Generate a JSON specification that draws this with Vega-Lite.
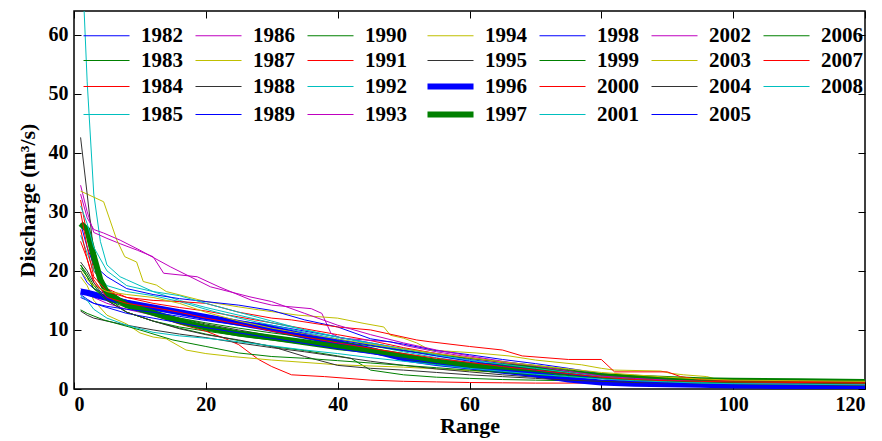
{
"$schema": "https://vega.github.io/schema/vega-lite/v6.json",
"width": 791, "height": 378,
"autosize": {"type": "none"},
"padding": {"left": 74, "top": 11, "right": 17, "bottom": 52},
"background": "white",
"config": {
  "view": {"stroke": "black", "strokeWidth": 1.5},
  "font": "Liberation Serif",
  "axis": {"grid": false, "domain": false, "tickColor": "black", "tickSize": -7, "tickWidth": 1,
    "labelFont": "Liberation Serif", "labelFontSize": 20, "labelFontWeight": "bold", "labelColor": "black",
    "titleFont": "Liberation Serif", "titleFontSize": 22, "titleFontWeight": "bold", "titleColor": "black"}
},
"datasets": {"flow": [
{"year":"1982","x":1,"q":20},{"year":"1982","x":2,"q":18},{"year":"1982","x":3,"q":17},{"year":"1982","x":5,"q":16},{"year":"1982","x":8,"q":15},{"year":"1982","x":12,"q":14},{"year":"1982","x":16,"q":13.2},{"year":"1982","x":20,"q":12.5},{"year":"1982","x":25,"q":11.5},{"year":"1982","x":30,"q":10.8},{"year":"1982","x":35,"q":9.8},{"year":"1982","x":40,"q":8.8},{"year":"1982","x":45,"q":7.8},{"year":"1982","x":50,"q":6.8},{"year":"1982","x":55,"q":6.0},{"year":"1982","x":60,"q":5.0},{"year":"1982","x":65,"q":4.3},{"year":"1982","x":70,"q":3.8},{"year":"1982","x":75,"q":3.0},{"year":"1982","x":80,"q":2.2},{"year":"1982","x":85,"q":1.7},{"year":"1982","x":90,"q":1.4},{"year":"1982","x":95,"q":1.2},{"year":"1982","x":100,"q":1.0},{"year":"1982","x":110,"q":0.8},{"year":"1982","x":120,"q":0.7},
{"year":"1983","x":1,"q":21},{"year":"1983","x":2,"q":19.5},{"year":"1983","x":3,"q":17.5},{"year":"1983","x":5,"q":15},{"year":"1983","x":8,"q":13},{"year":"1983","x":12,"q":11.5},{"year":"1983","x":16,"q":10.5},{"year":"1983","x":20,"q":9.8},{"year":"1983","x":25,"q":9.0},{"year":"1983","x":30,"q":8.3},{"year":"1983","x":35,"q":7.6},{"year":"1983","x":40,"q":7.0},{"year":"1983","x":45,"q":6.3},{"year":"1983","x":50,"q":5.6},{"year":"1983","x":55,"q":5.0},{"year":"1983","x":60,"q":4.4},{"year":"1983","x":65,"q":3.9},{"year":"1983","x":70,"q":3.4},{"year":"1983","x":75,"q":2.8},{"year":"1983","x":80,"q":2.2},{"year":"1983","x":85,"q":1.8},{"year":"1983","x":90,"q":1.5},{"year":"1983","x":95,"q":1.3},{"year":"1983","x":100,"q":1.1},{"year":"1983","x":110,"q":1.0},{"year":"1983","x":120,"q":0.9},
{"year":"1984","x":1,"q":32},{"year":"1984","x":2,"q":26},{"year":"1984","x":3,"q":20},{"year":"1984","x":5,"q":17},{"year":"1984","x":8,"q":15.5},{"year":"1984","x":12,"q":14.5},{"year":"1984","x":16,"q":13.8},{"year":"1984","x":20,"q":13.2},{"year":"1984","x":25,"q":12.2},{"year":"1984","x":30,"q":11.2},{"year":"1984","x":35,"q":10.2},{"year":"1984","x":40,"q":9.2},{"year":"1984","x":45,"q":8.2},{"year":"1984","x":50,"q":7.0},{"year":"1984","x":55,"q":6.0},{"year":"1984","x":60,"q":5.2},{"year":"1984","x":65,"q":4.5},{"year":"1984","x":70,"q":3.8},{"year":"1984","x":75,"q":3.1},{"year":"1984","x":80,"q":2.4},{"year":"1984","x":85,"q":1.9},{"year":"1984","x":90,"q":1.6},{"year":"1984","x":95,"q":1.3},{"year":"1984","x":100,"q":1.1},{"year":"1984","x":110,"q":0.9},{"year":"1984","x":120,"q":0.8},
{"year":"1985","x":1,"q":78},{"year":"1985","x":2,"q":52},{"year":"1985","x":3,"q":33},{"year":"1985","x":4,"q":25},{"year":"1985","x":5,"q":21},{"year":"1985","x":7,"q":19},{"year":"1985","x":8,"q":18.5},{"year":"1985","x":12,"q":16.5},{"year":"1985","x":16,"q":15},{"year":"1985","x":20,"q":13.8},{"year":"1985","x":25,"q":12.5},{"year":"1985","x":30,"q":11.2},{"year":"1985","x":35,"q":10},{"year":"1985","x":40,"q":8.8},{"year":"1985","x":45,"q":7.6},{"year":"1985","x":50,"q":6.6},{"year":"1985","x":55,"q":5.6},{"year":"1985","x":60,"q":4.8},{"year":"1985","x":65,"q":4.0},{"year":"1985","x":70,"q":3.3},{"year":"1985","x":75,"q":2.6},{"year":"1985","x":80,"q":2.0},{"year":"1985","x":85,"q":1.6},{"year":"1985","x":90,"q":1.3},{"year":"1985","x":95,"q":1.1},{"year":"1985","x":100,"q":1.0},{"year":"1985","x":110,"q":0.9},{"year":"1985","x":120,"q":0.8},
{"year":"1986","x":1,"q":34.5},{"year":"1986","x":2,"q":30},{"year":"1986","x":3,"q":26.5},{"year":"1986","x":5,"q":25.5},{"year":"1986","x":7,"q":24.6},{"year":"1986","x":9.6,"q":23.5},{"year":"1986","x":12,"q":22.4},{"year":"1986","x":13.6,"q":19.6},{"year":"1986","x":18.7,"q":19},{"year":"1986","x":22,"q":17.3},{"year":"1986","x":27,"q":15},{"year":"1986","x":30,"q":14.2},{"year":"1986","x":36,"q":13.6},{"year":"1986","x":37.6,"q":12.8},{"year":"1986","x":39,"q":9.4},{"year":"1986","x":40.5,"q":8.6},{"year":"1986","x":48,"q":8.0},{"year":"1986","x":50,"q":7.4},{"year":"1986","x":55,"q":6.3},{"year":"1986","x":60,"q":5.4},{"year":"1986","x":65,"q":4.6},{"year":"1986","x":70,"q":3.8},{"year":"1986","x":75,"q":3.0},{"year":"1986","x":80,"q":2.2},{"year":"1986","x":85,"q":1.7},{"year":"1986","x":90,"q":1.4},{"year":"1986","x":95,"q":1.2},{"year":"1986","x":100,"q":1.0},{"year":"1986","x":110,"q":0.8},{"year":"1986","x":120,"q":0.7},
{"year":"1987","x":1,"q":33.5},{"year":"1987","x":2,"q":33},{"year":"1987","x":4.5,"q":31.7},{"year":"1987","x":6.5,"q":25.2},{"year":"1987","x":7.7,"q":22.4},{"year":"1987","x":9.5,"q":21.5},{"year":"1987","x":10.5,"q":18.2},{"year":"1987","x":12.5,"q":17.6},{"year":"1987","x":14,"q":16.5},{"year":"1987","x":20,"q":14.8},{"year":"1987","x":25,"q":13.9},{"year":"1987","x":28,"q":13.4},{"year":"1987","x":34,"q":12.5},{"year":"1987","x":40,"q":12.0},{"year":"1987","x":44,"q":11.1},{"year":"1987","x":47,"q":10.5},{"year":"1987","x":48,"q":9.1},{"year":"1987","x":50,"q":8.6},{"year":"1987","x":52,"q":7.8},{"year":"1987","x":54,"q":6.6},{"year":"1987","x":61,"q":6.1},{"year":"1987","x":66,"q":5.6},{"year":"1987","x":70,"q":4.9},{"year":"1987","x":77,"q":4.1},{"year":"1987","x":80,"q":3.5},{"year":"1987","x":82,"q":3.2},{"year":"1987","x":89,"q":3.05},{"year":"1987","x":90.5,"q":2.65},{"year":"1987","x":92.5,"q":2.4},{"year":"1987","x":96,"q":2.1},{"year":"1987","x":98,"q":1.5},{"year":"1987","x":100,"q":1.4},{"year":"1987","x":110,"q":1.35},{"year":"1987","x":120,"q":1.3},
{"year":"1988","x":1,"q":42.6},{"year":"1988","x":2,"q":33},{"year":"1988","x":3,"q":23},{"year":"1988","x":4,"q":19},{"year":"1988","x":5,"q":17},{"year":"1988","x":8,"q":14.5},{"year":"1988","x":12,"q":13},{"year":"1988","x":16,"q":12},{"year":"1988","x":20,"q":11},{"year":"1988","x":25,"q":10},{"year":"1988","x":30,"q":9},{"year":"1988","x":35,"q":8.2},{"year":"1988","x":40,"q":7.3},{"year":"1988","x":45,"q":6.4},{"year":"1988","x":50,"q":5.5},{"year":"1988","x":55,"q":4.7},{"year":"1988","x":60,"q":4.0},{"year":"1988","x":65,"q":3.4},{"year":"1988","x":70,"q":2.8},{"year":"1988","x":75,"q":2.3},{"year":"1988","x":80,"q":1.8},{"year":"1988","x":85,"q":1.5},{"year":"1988","x":90,"q":1.3},{"year":"1988","x":95,"q":1.1},{"year":"1988","x":100,"q":1.0},{"year":"1988","x":110,"q":0.8},{"year":"1988","x":120,"q":0.7},
{"year":"1989","x":1,"q":28},{"year":"1989","x":2,"q":24},{"year":"1989","x":3,"q":21},{"year":"1989","x":5,"q":19},{"year":"1989","x":8,"q":17},{"year":"1989","x":12,"q":16},{"year":"1989","x":16,"q":15.3},{"year":"1989","x":20,"q":14.8},{"year":"1989","x":25,"q":14.2},{"year":"1989","x":30,"q":13.3},{"year":"1989","x":35,"q":11.7},{"year":"1989","x":40,"q":10.5},{"year":"1989","x":45,"q":8.5},{"year":"1989","x":50,"q":7.6},{"year":"1989","x":55,"q":6.5},{"year":"1989","x":60,"q":5.8},{"year":"1989","x":65,"q":5.0},{"year":"1989","x":70,"q":4.3},{"year":"1989","x":75,"q":3.5},{"year":"1989","x":80,"q":2.6},{"year":"1989","x":85,"q":2.0},{"year":"1989","x":90,"q":1.6},{"year":"1989","x":95,"q":1.3},{"year":"1989","x":100,"q":1.1},{"year":"1989","x":110,"q":0.9},{"year":"1989","x":120,"q":0.8},
{"year":"1990","x":1,"q":21},{"year":"1990","x":2,"q":19},{"year":"1990","x":3,"q":17},{"year":"1990","x":5,"q":15.5},{"year":"1990","x":8,"q":13},{"year":"1990","x":12,"q":11.5},{"year":"1990","x":16,"q":10.3},{"year":"1990","x":20,"q":9.3},{"year":"1990","x":25,"q":8.2},{"year":"1990","x":30,"q":7.2},{"year":"1990","x":35,"q":6.5},{"year":"1990","x":40,"q":5.6},{"year":"1990","x":42,"q":5.2},{"year":"1990","x":45,"q":3.2},{"year":"1990","x":50,"q":2.4},{"year":"1990","x":55,"q":2.0},{"year":"1990","x":60,"q":1.8},{"year":"1990","x":65,"q":1.6},{"year":"1990","x":70,"q":1.5},{"year":"1990","x":75,"q":1.4},{"year":"1990","x":80,"q":1.2},{"year":"1990","x":85,"q":1.0},{"year":"1990","x":90,"q":0.9},{"year":"1990","x":95,"q":0.8},{"year":"1990","x":100,"q":0.7},{"year":"1990","x":110,"q":0.6},{"year":"1990","x":120,"q":0.5},
{"year":"1991","x":1,"q":25},{"year":"1991","x":2,"q":22},{"year":"1991","x":3,"q":18},{"year":"1991","x":5,"q":16},{"year":"1991","x":8,"q":14},{"year":"1991","x":12,"q":12.5},{"year":"1991","x":16,"q":11},{"year":"1991","x":20,"q":9.8},{"year":"1991","x":23,"q":8.5},{"year":"1991","x":25,"q":7.5},{"year":"1991","x":28,"q":5},{"year":"1991","x":30,"q":3.8},{"year":"1991","x":33,"q":2.4},{"year":"1991","x":38,"q":2.1},{"year":"1991","x":45,"q":1.5},{"year":"1991","x":50,"q":1.3},{"year":"1991","x":55,"q":1.2},{"year":"1991","x":60,"q":1.1},{"year":"1991","x":65,"q":1.05},{"year":"1991","x":70,"q":1.0},{"year":"1991","x":80,"q":1.0},{"year":"1991","x":90,"q":0.9},{"year":"1991","x":100,"q":0.9},{"year":"1991","x":110,"q":0.85},{"year":"1991","x":120,"q":0.8},
{"year":"1992","x":1,"q":26},{"year":"1992","x":2,"q":23},{"year":"1992","x":3,"q":20},{"year":"1992","x":5,"q":17.5},{"year":"1992","x":8,"q":16.5},{"year":"1992","x":12,"q":15.8},{"year":"1992","x":16,"q":14.8},{"year":"1992","x":20,"q":13.5},{"year":"1992","x":25,"q":12.0},{"year":"1992","x":30,"q":10.8},{"year":"1992","x":35,"q":9.6},{"year":"1992","x":40,"q":8.5},{"year":"1992","x":45,"q":7.4},{"year":"1992","x":50,"q":6.3},{"year":"1992","x":55,"q":5.3},{"year":"1992","x":60,"q":4.5},{"year":"1992","x":65,"q":3.8},{"year":"1992","x":70,"q":3.1},{"year":"1992","x":75,"q":2.5},{"year":"1992","x":80,"q":1.9},{"year":"1992","x":85,"q":1.6},{"year":"1992","x":90,"q":1.3},{"year":"1992","x":95,"q":1.2},{"year":"1992","x":100,"q":1.1},{"year":"1992","x":110,"q":1.0},{"year":"1992","x":120,"q":0.9},
{"year":"1993","x":1,"q":17},{"year":"1993","x":2,"q":16},{"year":"1993","x":3,"q":15.5},{"year":"1993","x":5,"q":14.5},{"year":"1993","x":8,"q":13.5},{"year":"1993","x":12,"q":12.5},{"year":"1993","x":16,"q":11.5},{"year":"1993","x":20,"q":10.6},{"year":"1993","x":25,"q":9.7},{"year":"1993","x":30,"q":8.8},{"year":"1993","x":35,"q":8.0},{"year":"1993","x":40,"q":7.2},{"year":"1993","x":45,"q":6.4},{"year":"1993","x":50,"q":5.7},{"year":"1993","x":55,"q":5.0},{"year":"1993","x":60,"q":4.3},{"year":"1993","x":65,"q":3.7},{"year":"1993","x":70,"q":3.1},{"year":"1993","x":75,"q":2.5},{"year":"1993","x":80,"q":1.9},{"year":"1993","x":85,"q":1.5},{"year":"1993","x":90,"q":1.2},{"year":"1993","x":95,"q":1.1},{"year":"1993","x":100,"q":1.0},{"year":"1993","x":110,"q":0.9},{"year":"1993","x":120,"q":0.8},
{"year":"1994","x":1,"q":19},{"year":"1994","x":2,"q":17.5},{"year":"1994","x":3,"q":15},{"year":"1994","x":5,"q":12.5},{"year":"1994","x":8,"q":11},{"year":"1994","x":10,"q":9.5},{"year":"1994","x":12,"q":8.8},{"year":"1994","x":14,"q":8.5},{"year":"1994","x":17,"q":6.6},{"year":"1994","x":20,"q":6.0},{"year":"1994","x":24,"q":5.5},{"year":"1994","x":30,"q":4.9},{"year":"1994","x":40,"q":4.1},{"year":"1994","x":50,"q":3.7},{"year":"1994","x":55,"q":3.4},{"year":"1994","x":60,"q":3.1},{"year":"1994","x":65,"q":2.8},{"year":"1994","x":70,"q":2.5},{"year":"1994","x":75,"q":2.2},{"year":"1994","x":80,"q":1.9},{"year":"1994","x":85,"q":1.7},{"year":"1994","x":90,"q":1.5},{"year":"1994","x":95,"q":1.4},{"year":"1994","x":100,"q":1.3},{"year":"1994","x":110,"q":1.2},{"year":"1994","x":120,"q":1.1},
{"year":"1995","x":1,"q":13.2},{"year":"1995","x":2,"q":12.5},{"year":"1995","x":3,"q":12},{"year":"1995","x":5,"q":11.5},{"year":"1995","x":8,"q":10.8},{"year":"1995","x":12,"q":10},{"year":"1995","x":16,"q":9.3},{"year":"1995","x":20,"q":8.7},{"year":"1995","x":25,"q":7.8},{"year":"1995","x":30,"q":7.0},{"year":"1995","x":35,"q":6.3},{"year":"1995","x":40,"q":5.5},{"year":"1995","x":45,"q":4.7},{"year":"1995","x":50,"q":4.0},{"year":"1995","x":55,"q":3.4},{"year":"1995","x":60,"q":2.9},{"year":"1995","x":65,"q":2.4},{"year":"1995","x":70,"q":2.0},{"year":"1995","x":75,"q":1.7},{"year":"1995","x":80,"q":1.4},{"year":"1995","x":85,"q":1.2},{"year":"1995","x":90,"q":1.0},{"year":"1995","x":95,"q":0.9},{"year":"1995","x":100,"q":0.8},{"year":"1995","x":110,"q":0.7},{"year":"1995","x":120,"q":0.6},
{"year":"1996","x":1,"q":16.5},{"year":"1996","x":2,"q":16.3},{"year":"1996","x":3,"q":16},{"year":"1996","x":5,"q":15.4},{"year":"1996","x":8,"q":14.6},{"year":"1996","x":12,"q":13.8},{"year":"1996","x":16,"q":13},{"year":"1996","x":20,"q":12.2},{"year":"1996","x":25,"q":11.2},{"year":"1996","x":30,"q":10.2},{"year":"1996","x":35,"q":9.0},{"year":"1996","x":40,"q":7.8},{"year":"1996","x":45,"q":6.6},{"year":"1996","x":50,"q":5.2},{"year":"1996","x":55,"q":4.4},{"year":"1996","x":60,"q":3.8},{"year":"1996","x":65,"q":3.1},{"year":"1996","x":70,"q":2.5},{"year":"1996","x":75,"q":1.6},{"year":"1996","x":80,"q":1.1},{"year":"1996","x":85,"q":0.9},{"year":"1996","x":90,"q":0.8},{"year":"1996","x":95,"q":0.7},{"year":"1996","x":100,"q":0.6},{"year":"1996","x":110,"q":0.45},{"year":"1996","x":120,"q":0.35},
{"year":"1997","x":1,"q":28},{"year":"1997","x":2,"q":27},{"year":"1997","x":3,"q":22.5},{"year":"1997","x":4,"q":18.5},{"year":"1997","x":5,"q":16.3},{"year":"1997","x":8,"q":14.2},{"year":"1997","x":12,"q":12.9},{"year":"1997","x":16,"q":11.5},{"year":"1997","x":20,"q":10.4},{"year":"1997","x":25,"q":9.4},{"year":"1997","x":30,"q":8.7},{"year":"1997","x":35,"q":7.9},{"year":"1997","x":40,"q":7.1},{"year":"1997","x":45,"q":6.5},{"year":"1997","x":50,"q":5.6},{"year":"1997","x":55,"q":4.6},{"year":"1997","x":60,"q":4.0},{"year":"1997","x":65,"q":3.8},{"year":"1997","x":70,"q":3.4},{"year":"1997","x":75,"q":2.7},{"year":"1997","x":80,"q":2.2},{"year":"1997","x":85,"q":1.9},{"year":"1997","x":90,"q":1.7},{"year":"1997","x":95,"q":1.5},{"year":"1997","x":100,"q":1.4},{"year":"1997","x":110,"q":1.3},{"year":"1997","x":120,"q":1.2},
{"year":"1998","x":1,"q":15.5},{"year":"1998","x":2,"q":15},{"year":"1998","x":3,"q":14.5},{"year":"1998","x":5,"q":13.8},{"year":"1998","x":8,"q":12.8},{"year":"1998","x":12,"q":12},{"year":"1998","x":16,"q":11.2},{"year":"1998","x":20,"q":10.4},{"year":"1998","x":25,"q":9.5},{"year":"1998","x":30,"q":8.6},{"year":"1998","x":35,"q":7.7},{"year":"1998","x":40,"q":6.8},{"year":"1998","x":45,"q":6.0},{"year":"1998","x":50,"q":5.2},{"year":"1998","x":55,"q":4.3},{"year":"1998","x":60,"q":3.5},{"year":"1998","x":65,"q":2.8},{"year":"1998","x":70,"q":2.1},{"year":"1998","x":75,"q":1.5},{"year":"1998","x":80,"q":1.1},{"year":"1998","x":85,"q":0.9},{"year":"1998","x":90,"q":0.7},{"year":"1998","x":95,"q":0.6},{"year":"1998","x":100,"q":0.5},{"year":"1998","x":110,"q":0.4},{"year":"1998","x":120,"q":0.3},
{"year":"1999","x":1,"q":20.5},{"year":"1999","x":2,"q":19},{"year":"1999","x":3,"q":17},{"year":"1999","x":5,"q":15},{"year":"1999","x":8,"q":13.8},{"year":"1999","x":12,"q":12.8},{"year":"1999","x":16,"q":12},{"year":"1999","x":20,"q":11.2},{"year":"1999","x":25,"q":10.3},{"year":"1999","x":30,"q":9.5},{"year":"1999","x":35,"q":8.8},{"year":"1999","x":40,"q":8.0},{"year":"1999","x":45,"q":7.3},{"year":"1999","x":50,"q":6.5},{"year":"1999","x":55,"q":5.8},{"year":"1999","x":60,"q":5.2},{"year":"1999","x":65,"q":4.6},{"year":"1999","x":70,"q":4.0},{"year":"1999","x":75,"q":3.3},{"year":"1999","x":80,"q":2.4},{"year":"1999","x":85,"q":1.9},{"year":"1999","x":90,"q":1.6},{"year":"1999","x":95,"q":1.4},{"year":"1999","x":100,"q":1.3},{"year":"1999","x":110,"q":1.2},{"year":"1999","x":120,"q":1.1},
{"year":"2000","x":1,"q":30},{"year":"2000","x":2,"q":24},{"year":"2000","x":3,"q":19},{"year":"2000","x":5,"q":16.5},{"year":"2000","x":8,"q":15.5},{"year":"2000","x":12,"q":15},{"year":"2000","x":16,"q":14.8},{"year":"2000","x":20,"q":14.5},{"year":"2000","x":25,"q":13},{"year":"2000","x":30,"q":12},{"year":"2000","x":33,"q":11.7},{"year":"2000","x":40,"q":10.5},{"year":"2000","x":45,"q":10},{"year":"2000","x":52,"q":8.3},{"year":"2000","x":54,"q":8},{"year":"2000","x":60,"q":7.2},{"year":"2000","x":65,"q":6.6},{"year":"2000","x":68,"q":5.6},{"year":"2000","x":75,"q":5.0},{"year":"2000","x":80,"q":5.0},{"year":"2000","x":82,"q":2.9},{"year":"2000","x":90,"q":2.9},{"year":"2000","x":92,"q":2.1},{"year":"2000","x":95,"q":1.6},{"year":"2000","x":100,"q":1.4},{"year":"2000","x":110,"q":1.3},{"year":"2000","x":120,"q":1.15},
{"year":"2001","x":1,"q":31},{"year":"2001","x":2,"q":28},{"year":"2001","x":3,"q":24},{"year":"2001","x":5,"q":20},{"year":"2001","x":8,"q":17.5},{"year":"2001","x":12,"q":16.5},{"year":"2001","x":16,"q":15.8},{"year":"2001","x":20,"q":14.5},{"year":"2001","x":25,"q":13},{"year":"2001","x":30,"q":11.5},{"year":"2001","x":35,"q":10},{"year":"2001","x":40,"q":8.8},{"year":"2001","x":45,"q":7.8},{"year":"2001","x":50,"q":6.8},{"year":"2001","x":55,"q":5.8},{"year":"2001","x":60,"q":4.9},{"year":"2001","x":65,"q":4.2},{"year":"2001","x":70,"q":3.5},{"year":"2001","x":75,"q":2.8},{"year":"2001","x":80,"q":2.1},{"year":"2001","x":85,"q":1.6},{"year":"2001","x":90,"q":1.3},{"year":"2001","x":95,"q":1.1},{"year":"2001","x":100,"q":1.0},{"year":"2001","x":110,"q":0.9},{"year":"2001","x":120,"q":0.8},
{"year":"2002","x":1,"q":33},{"year":"2002","x":2,"q":29},{"year":"2002","x":3,"q":27},{"year":"2002","x":4.5,"q":26.4},{"year":"2002","x":7,"q":25.2},{"year":"2002","x":10,"q":23.5},{"year":"2002","x":14.6,"q":20.7},{"year":"2002","x":20.7,"q":17.3},{"year":"2002","x":26.7,"q":15.6},{"year":"2002","x":30,"q":14.8},{"year":"2002","x":35,"q":12.8},{"year":"2002","x":40,"q":10.8},{"year":"2002","x":45,"q":9.2},{"year":"2002","x":50,"q":7.8},{"year":"2002","x":55,"q":6.6},{"year":"2002","x":60,"q":5.6},{"year":"2002","x":65,"q":4.7},{"year":"2002","x":70,"q":3.9},{"year":"2002","x":75,"q":3.0},{"year":"2002","x":80,"q":2.2},{"year":"2002","x":85,"q":1.8},{"year":"2002","x":90,"q":1.5},{"year":"2002","x":95,"q":1.3},{"year":"2002","x":100,"q":1.1},{"year":"2002","x":110,"q":0.9},{"year":"2002","x":120,"q":0.8},
{"year":"2003","x":1,"q":20},{"year":"2003","x":2,"q":18.5},{"year":"2003","x":3,"q":17.5},{"year":"2003","x":5,"q":16.5},{"year":"2003","x":8,"q":16},{"year":"2003","x":12,"q":15.5},{"year":"2003","x":16,"q":14.5},{"year":"2003","x":20,"q":13},{"year":"2003","x":25,"q":11.5},{"year":"2003","x":30,"q":10.3},{"year":"2003","x":35,"q":9.3},{"year":"2003","x":40,"q":8.4},{"year":"2003","x":45,"q":7.6},{"year":"2003","x":50,"q":6.8},{"year":"2003","x":55,"q":6.0},{"year":"2003","x":60,"q":5.3},{"year":"2003","x":65,"q":4.6},{"year":"2003","x":70,"q":4.0},{"year":"2003","x":75,"q":3.4},{"year":"2003","x":80,"q":2.8},{"year":"2003","x":85,"q":2.4},{"year":"2003","x":90,"q":2.0},{"year":"2003","x":95,"q":1.7},{"year":"2003","x":100,"q":1.5},{"year":"2003","x":110,"q":1.4},{"year":"2003","x":120,"q":1.3},
{"year":"2004","x":1,"q":21.5},{"year":"2004","x":2,"q":20},{"year":"2004","x":3,"q":18},{"year":"2004","x":5,"q":15},{"year":"2004","x":8,"q":13},{"year":"2004","x":12,"q":11.5},{"year":"2004","x":16,"q":10.2},{"year":"2004","x":20,"q":9.2},{"year":"2004","x":25,"q":8.3},{"year":"2004","x":30,"q":7.2},{"year":"2004","x":35,"q":5.5},{"year":"2004","x":40,"q":4.0},{"year":"2004","x":45,"q":3.5},{"year":"2004","x":50,"q":3.2},{"year":"2004","x":55,"q":2.8},{"year":"2004","x":60,"q":2.4},{"year":"2004","x":65,"q":2.1},{"year":"2004","x":70,"q":1.8},{"year":"2004","x":75,"q":1.5},{"year":"2004","x":80,"q":1.3},{"year":"2004","x":85,"q":1.1},{"year":"2004","x":90,"q":1.0},{"year":"2004","x":95,"q":0.9},{"year":"2004","x":100,"q":0.8},{"year":"2004","x":110,"q":0.7},{"year":"2004","x":120,"q":0.6},
{"year":"2005","x":1,"q":16},{"year":"2005","x":2,"q":15.2},{"year":"2005","x":3,"q":14.5},{"year":"2005","x":5,"q":14},{"year":"2005","x":8,"q":13.5},{"year":"2005","x":12,"q":13},{"year":"2005","x":16,"q":12.3},{"year":"2005","x":20,"q":11.6},{"year":"2005","x":25,"q":10.8},{"year":"2005","x":30,"q":10.0},{"year":"2005","x":35,"q":9.2},{"year":"2005","x":40,"q":8.3},{"year":"2005","x":45,"q":7.4},{"year":"2005","x":50,"q":6.5},{"year":"2005","x":55,"q":5.6},{"year":"2005","x":60,"q":4.7},{"year":"2005","x":65,"q":3.9},{"year":"2005","x":70,"q":3.2},{"year":"2005","x":75,"q":2.5},{"year":"2005","x":80,"q":1.8},{"year":"2005","x":85,"q":1.3},{"year":"2005","x":90,"q":1.0},{"year":"2005","x":95,"q":0.8},{"year":"2005","x":100,"q":0.7},{"year":"2005","x":110,"q":0.5},{"year":"2005","x":120,"q":0.4},
{"year":"2006","x":1,"q":13.4},{"year":"2006","x":2,"q":12.8},{"year":"2006","x":4.5,"q":11.7},{"year":"2006","x":10,"q":10},{"year":"2006","x":15,"q":8.3},{"year":"2006","x":20,"q":7.2},{"year":"2006","x":25,"q":6.1},{"year":"2006","x":30,"q":5.5},{"year":"2006","x":35,"q":5.2},{"year":"2006","x":40,"q":4.8},{"year":"2006","x":45,"q":4.4},{"year":"2006","x":50,"q":4.0},{"year":"2006","x":55,"q":3.6},{"year":"2006","x":60,"q":3.2},{"year":"2006","x":65,"q":2.8},{"year":"2006","x":70,"q":2.4},{"year":"2006","x":75,"q":2.1},{"year":"2006","x":80,"q":1.8},{"year":"2006","x":85,"q":1.5},{"year":"2006","x":90,"q":1.3},{"year":"2006","x":95,"q":1.2},{"year":"2006","x":100,"q":1.1},{"year":"2006","x":110,"q":1.0},{"year":"2006","x":120,"q":0.9},
{"year":"2007","x":1,"q":27},{"year":"2007","x":2,"q":22},{"year":"2007","x":3,"q":18.5},{"year":"2007","x":5,"q":15.5},{"year":"2007","x":8,"q":14.5},{"year":"2007","x":12,"q":13.8},{"year":"2007","x":16,"q":13},{"year":"2007","x":20,"q":12},{"year":"2007","x":25,"q":11},{"year":"2007","x":30,"q":9.8},{"year":"2007","x":35,"q":8.8},{"year":"2007","x":40,"q":7.8},{"year":"2007","x":45,"q":6.9},{"year":"2007","x":50,"q":6.0},{"year":"2007","x":55,"q":5.2},{"year":"2007","x":60,"q":4.5},{"year":"2007","x":65,"q":3.8},{"year":"2007","x":70,"q":3.2},{"year":"2007","x":75,"q":2.6},{"year":"2007","x":80,"q":2.0},{"year":"2007","x":85,"q":1.6},{"year":"2007","x":90,"q":1.4},{"year":"2007","x":95,"q":1.3},{"year":"2007","x":100,"q":1.2},{"year":"2007","x":110,"q":1.1},{"year":"2007","x":120,"q":1.0},
{"year":"2008","x":1,"q":15.8},{"year":"2008","x":2,"q":15},{"year":"2008","x":3,"q":13.5},{"year":"2008","x":5,"q":12},{"year":"2008","x":8,"q":10.8},{"year":"2008","x":12,"q":9.6},{"year":"2008","x":16,"q":9.0},{"year":"2008","x":20,"q":8.6},{"year":"2008","x":25,"q":8.0},{"year":"2008","x":30,"q":7.3},{"year":"2008","x":35,"q":6.6},{"year":"2008","x":40,"q":6.0},{"year":"2008","x":45,"q":5.3},{"year":"2008","x":50,"q":4.7},{"year":"2008","x":55,"q":4.1},{"year":"2008","x":60,"q":3.5},{"year":"2008","x":65,"q":3.0},{"year":"2008","x":70,"q":2.5},{"year":"2008","x":75,"q":2.1},{"year":"2008","x":80,"q":1.7},{"year":"2008","x":85,"q":1.4},{"year":"2008","x":90,"q":1.2},{"year":"2008","x":95,"q":1.0},{"year":"2008","x":100,"q":0.9},{"year":"2008","x":110,"q":0.8},{"year":"2008","x":120,"q":0.7}
]},
"data": {"name": "flow"},
"layer": [
  {
    "mark": {"type": "line", "clip": true},
    "encoding": {
      "x": {"field": "x", "type": "quantitative", "scale": {"domain": [0, 120], "nice": false, "zero": false},
        "axis": {"orient": "bottom", "values": [0, 20, 40, 60, 80, 100, 120], "title": "Range", "labelPadding": 12, "titlePadding": 1}},
      "y": {"field": "q", "type": "quantitative", "scale": {"domain": [0, 64], "nice": false},
        "axis": {"orient": "left", "values": [0, 10, 20, 30, 40, 50, 60], "title": "Discharge (m³/s)", "labelPadding": 13, "titlePadding": 9}},
      "color": {"field": "year", "type": "nominal",
        "scale": {
          "domain": ["1982","1986","1990","1994","1998","2002","2006","1983","1987","1991","1995","1999","2003","2007","1984","1988","1992","1996","2000","2004","2008","1985","1989","1993","1997","2001","2005"],
          "range": ["#0000ff","#bf00bf","#008000","#bfbf00","#0000ff","#bf00bf","#008000","#008000","#bfbf00","#ff0000","#333333","#008000","#bfbf00","#ff0000","#ff0000","#333333","#00bfbf","#0000ff","#ff0000","#333333","#00bfbf","#00bfbf","#0000ff","#bf00bf","#008000","#00bfbf","#0000ff"]
        },
        "legend": {"orient": "none", "legendX": 5, "legendY": 14, "direction": "horizontal", "columns": 7, "title": null,
          "symbolType": "M-1,0H6.67", "symbolSize": 144, "symbolFillColor": "transparent",
          "labelFont": "Liberation Serif", "labelFontSize": 21, "labelFontWeight": "bold", "labelColor": "black",
          "labelOffset": 41, "columnPadding": 8, "rowPadding": 3, "padding": 0, "labelLimit": 200,
          "encode": {"symbols": {"update": {"strokeWidth": {"signal": "datum.value == '1996' || datum.value == '1997' ? 6 : 1"}}}}}
      },
      "strokeWidth": {"condition": {"test": "datum.year == '1996' || datum.year == '1997'", "value": 6}, "value": 1}
    }
  },
  {
    "mark": {"type": "point", "opacity": 0},
    "encoding": {
      "x": {"field": "x", "type": "quantitative", "scale": {"domain": [0, 120], "nice": false, "zero": false},
        "axis": {"orient": "top", "values": [0, 20, 40, 60, 80, 100, 120], "labels": false, "title": null}},
      "y": {"field": "q", "type": "quantitative", "scale": {"domain": [0, 64], "nice": false},
        "axis": {"orient": "right", "values": [0, 10, 20, 30, 40, 50, 60], "labels": false, "title": null}}
    }
  }
],
"resolve": {"axis": {"x": "independent", "y": "independent"}}
}
